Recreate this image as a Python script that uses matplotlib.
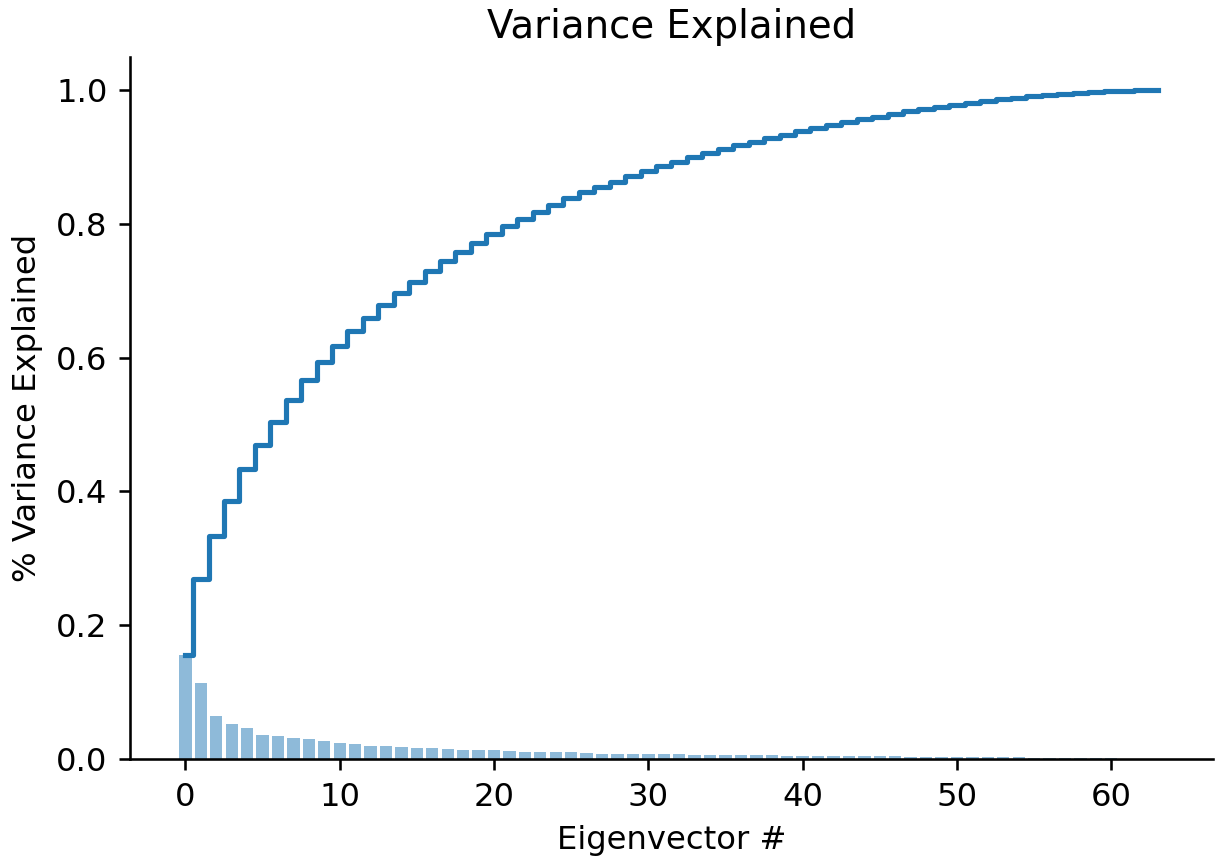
import numpy as np
import matplotlib
matplotlib.use("Agg")
import matplotlib.pyplot as plt

# Individual explained-variance ratio for each of the 64 eigenvectors
variance_ratio = [
    0.155, 0.114, 0.065, 0.052, 0.047, 0.036, 0.035, 0.032, 0.030, 0.027,
    0.024, 0.023, 0.020, 0.019, 0.018, 0.016, 0.016, 0.015, 0.014, 0.014,
    0.013, 0.012, 0.011, 0.010, 0.010, 0.010, 0.009, 0.008, 0.008, 0.008,
    0.008, 0.007, 0.007, 0.0065, 0.006, 0.006, 0.006, 0.0055, 0.0055, 0.005,
    0.005, 0.005, 0.0045, 0.0045, 0.004, 0.004, 0.004, 0.0037, 0.0035, 0.0033,
    0.003, 0.003, 0.0028, 0.0026, 0.0024, 0.0022, 0.002, 0.0018, 0.0016, 0.0014,
    0.0008, 0.0006, 0.0003, 0.0001,
]
eigen_index = np.arange(len(variance_ratio))
cumulative = np.cumsum(variance_ratio)

DPI = 232
fig = plt.figure(figsize=(1222 / DPI, 858 / DPI), dpi=DPI)
ax = fig.add_axes([0.1064, 0.1154, 0.8862, 0.8182])

ax.bar(eigen_index, variance_ratio, alpha=0.5, align="center", color="C0")
ax.step(eigen_index, cumulative, where="mid", color="C0", linewidth=1.6)

ax.set_title("Variance Explained", fontsize=12)
ax.set_xlabel("Eigenvector #", fontsize=10)
ax.set_ylabel("% Variance Explained", fontsize=10)
ax.spines["top"].set_visible(False)
ax.spines["right"].set_visible(False)

fig.savefig("out.png", dpi=DPI)
